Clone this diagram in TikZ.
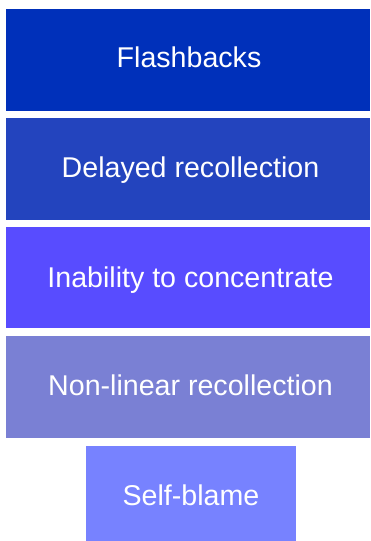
\documentclass[tikz,border=0pt]{standalone}
\usepackage{fontspec}
\setmainfont{Liberation Sans}
\definecolor{cA}{RGB}{0,48,186}
\definecolor{cB}{RGB}{35,68,190}
\definecolor{cC}{RGB}{88,76,255}
\definecolor{cD}{RGB}{122,128,212}
\definecolor{cE}{RGB}{119,130,255}
\tikzset{
  bar/.style={inner sep=0pt, outer sep=0pt, draw=none},
  lbl/.style={text=white, font=\fontsize{28.6}{31}\selectfont, anchor=base, inner sep=0pt}
}
\begin{document}
\begin{tikzpicture}[x=1pt,y=-1pt]
\useasboundingbox (0,0) rectangle (370,541);
\fill[white] (0,0) rectangle (370,541);
\fill[cA] (6,9) rectangle (370,111);
\fill[cB] (6,118) rectangle (370,220);
\fill[cC] (6,227) rectangle (370,328);
\fill[cD] (6,336) rectangle (370,438);
\fill[cE] (86,446) rectangle (296,541);
\node[lbl] (t1) at (189,67) {Flashbacks};
\node[lbl] (t2) at (190.5,177) {Delayed recollection};
\node[lbl] (t3) at (190.5,287) {Inability to concentrate};
\node[lbl] (t4) at (190.5,395) {Non-linear recollection};
\node[lbl] (t5) at (191,505) {Self-blame};
\end{tikzpicture}
\end{document}
